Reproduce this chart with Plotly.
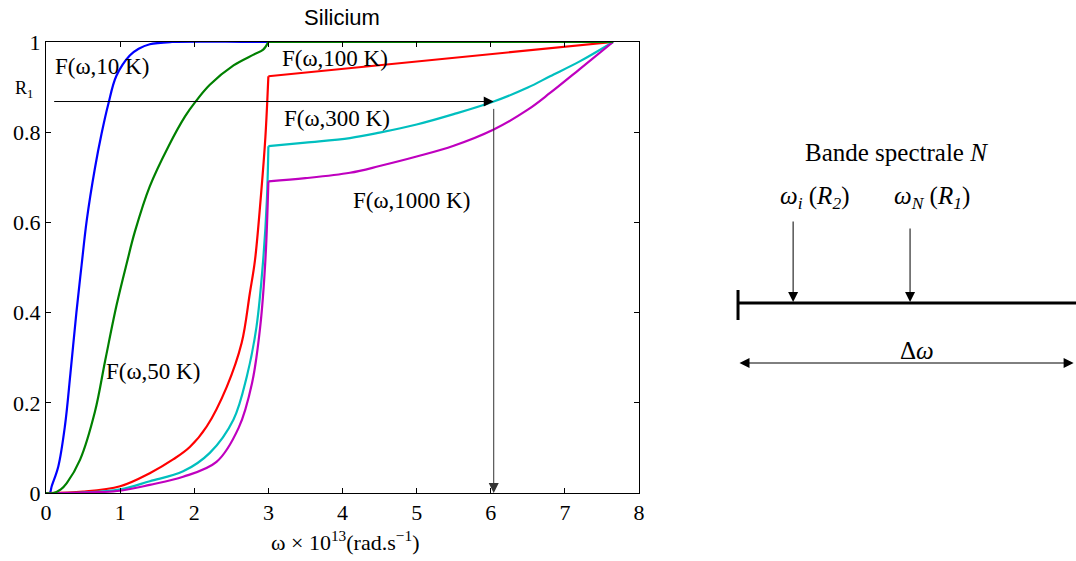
import plotly.graph_objects as go

# ---------------- data ----------------
w10 = [0, 0.05, 0.077, 0.166, 0.255, 0.33, 0.41, 0.48, 0.55, 0.66, 0.75, 0.84, 0.95, 1.13, 1.25, 1.40, 1.70, 3.0, 7.65]
F10 = [0, 0, 0.015, 0.059, 0.148, 0.266, 0.40, 0.505, 0.605, 0.72, 0.797, 0.862, 0.925, 0.97, 0.985, 0.995, 1.0, 1.0, 1.0]

w50 = [0, 0.1, 0.2, 0.28, 0.46, 0.66, 0.80, 0.95, 1.09, 1.20, 1.40, 1.65, 1.876, 2.01, 2.21, 2.53, 2.80, 2.93, 3.0, 7.65]
F50 = [0, 0, 0.008, 0.022, 0.074, 0.18, 0.295, 0.415, 0.51, 0.58, 0.68, 0.768, 0.835, 0.866, 0.905, 0.948, 0.972, 0.983, 1.0, 1.0]

w100 = [0, 0.5, 1.0, 1.40, 1.72, 1.94, 2.17, 2.44, 2.64, 2.75, 2.82, 2.90, 2.96, 3.0, 7.65]
F100 = [0, 0.003, 0.015, 0.044, 0.075, 0.102, 0.148, 0.236, 0.333, 0.443, 0.517, 0.66, 0.79, 0.924, 1.0]

w300 = [0, 0.5, 1.0, 1.40, 1.85, 2.21, 2.53, 2.71, 2.84, 2.93, 2.98, 3.0, 3.5, 4.1, 4.5, 5.0, 5.5, 6.04, 6.5, 6.8, 7.2, 7.65]
F300 = [0, 0.001, 0.008, 0.026, 0.048, 0.089, 0.163, 0.259, 0.369, 0.517, 0.65, 0.769, 0.777, 0.787, 0.799, 0.817, 0.840, 0.868, 0.899, 0.924, 0.957, 1.0]

w1000 = [0, 0.5, 1.0, 1.40, 1.85, 2.30, 2.60, 2.78, 2.89, 2.96, 3.0, 3.5, 4.1, 4.5, 5.0, 5.5, 6.04, 6.5, 6.8, 7.2, 7.65]
F1000 = [0, 0.001, 0.005, 0.018, 0.036, 0.069, 0.145, 0.244, 0.369, 0.517, 0.691, 0.698, 0.710, 0.725, 0.746, 0.770, 0.806, 0.850, 0.887, 0.940, 1.0]

series_names = ["F(ω,10 K)", "F(ω,50 K)", "F(ω,100 K)", "F(ω,300 K)", "F(ω,1000 K)"]
series_colors = ["#0000FF", "#008000", "#FF0000", "#00BFBF", "#BF00BF"]

# abscissa where the curves change regime (band edge)
omega_edge = 3.0

# label positions (data coordinates)
label_x = [0.76, 1.45, 3.90, 3.93, 4.93]
label_y = [0.946, 0.27, 0.963, 0.831, 0.648]

# R1 level and resulting omega_N
R1 = 0.868
omega_N = 6.04
x_ticks = [0, 1, 2, 3, 4, 5, 6, 7, 8]
y_ticks = [0, 0.2, 0.4, 0.6, 0.8, 1.0]
y_ticktext = ["0", "0.2", "0.4", "0.6", "0.8", "1"]

# schematic (right-hand sketch) positions, band normalised to [0, 1]
omega_i_pos = 0.163
omega_N_pos = 0.509

SERIF = "Liberation Serif, Times New Roman, serif"
SANS = "Liberation Sans, Arial, sans-serif"

fig = go.Figure()
series = {0: (w10, F10), 1: (w50, F50), 2: (w100, F100), 3: (w300, F300), 4: (w1000, F1000)}
draw_order = [0, 2, 3, 4, 1]
for i in draw_order:
    xs, ys = series[i]
    if i == 0:
        pieces = [(xs, ys)]
    else:
        k = xs.index(omega_edge)
        pieces = [(xs[:k + 1], ys[:k + 1]), (xs[k:], ys[k:])]
    for px, py in pieces:
        fig.add_trace(go.Scatter(x=px, y=py, mode="lines", name=series_names[i],
                                 line=dict(color=series_colors[i], width=2.2, shape="spline", smoothing=1.0),
                                 xaxis="x", yaxis="y", hoverinfo="skip"))

# curve labels
for i in range(5):
    fig.add_annotation(x=label_x[i], y=label_y[i], xref="x", yref="y", text=series_names[i],
                       xanchor="center", yanchor="middle",
                       showarrow=False, font=dict(family=SERIF, size=23, color="black"))

# arrows for R1 -> omega_N
fig.add_annotation(x=omega_N, y=R1, ax=0.09, ay=R1, xref="x", yref="y", axref="x", ayref="y",
                   text="", showarrow=True, arrowhead=2, arrowsize=2, arrowwidth=1,
                   arrowcolor="black", standoff=0)
fig.add_annotation(x=omega_N, y=0.0, ax=omega_N, ay=R1 - 0.013, xref="x", yref="y", axref="x", ayref="y",
                   text="", showarrow=True, arrowhead=2, arrowsize=2, arrowwidth=1,
                   arrowcolor="#333333", standoff=0)

# R1 label
fig.add_annotation(x=-0.021, y=0.894, xref="paper", yref="paper", text="R<sub>1</sub>",
                   xanchor="center", yanchor="middle",
                   showarrow=False, font=dict(family=SERIF, size=18, color="black"))

# x axis title
fig.add_annotation(x=0.29, y=-0.106, xref="paper", yref="paper",
                   text="ω × 10<sup>13</sup>(rad.s<sup>−1</sup>)",
                   xanchor="center", yanchor="middle",
                   showarrow=False, font=dict(family=SERIF, size=22, color="black"))

# ---------------- schematic on the right ----------------
line_style = dict(color="black", width=3)
fig.add_shape(type="line", x0=0, x1=1.0, y0=0, y1=0, xref="x2", yref="y2", line=line_style)
fig.add_shape(type="line", x0=0, x1=0, y0=-17, y1=13, xref="x2", yref="y2", line=line_style)

for pos, top in [(omega_i_pos, 83), (omega_N_pos, 76)]:
    fig.add_annotation(x=pos, y=0, ax=pos, ay=top, xref="x2", yref="y2", axref="x2", ayref="y2",
                       text="", showarrow=True, arrowhead=2, arrowsize=2, arrowwidth=1,
                       arrowcolor="black", standoff=1)

fig.add_annotation(x=0.993, y=-60, ax=0.0, ay=-60, xref="x2", yref="y2", axref="x2", ayref="y2",
                   text="", showarrow=True, arrowhead=2, arrowsize=2, arrowwidth=1,
                   arrowside="end+start", arrowcolor="black", standoff=0, startstandoff=0)

diag_font = dict(family=SERIF, size=25, color="black")
fig.add_annotation(x=0.470, y=151, xref="x2", yref="y2", text="Bande spectrale <i>N</i>",
                   xanchor="center", yanchor="middle", showarrow=False, font=diag_font)
fig.add_annotation(x=0.225, y=106, xref="x2", yref="y2",
                   text="<i>ω</i><sub><i>i</i></sub> (<i>R</i><sub><i>2</i></sub>)",
                   xanchor="center", yanchor="middle", showarrow=False, font=diag_font)
fig.add_annotation(x=0.575, y=106, xref="x2", yref="y2",
                   text="<i>ω</i><sub><i>N</i></sub> (<i>R</i><sub><i>1</i></sub>)",
                   xanchor="center", yanchor="middle", showarrow=False, font=diag_font)
fig.add_annotation(x=0.53, y=-47, xref="x2", yref="y2", text="Δ<i>ω</i>",
                   xanchor="center", yanchor="middle", showarrow=False, font=diag_font)

axis_common = dict(showline=True, linecolor="black", linewidth=1, mirror="ticks",
                   ticks="inside", ticklen=5, tickcolor="black", showgrid=False, zeroline=False,
                   automargin=False,
                   tickfont=dict(family=SERIF, size=22, color="black"))

fig.update_layout(
    width=1076, height=561,
    margin=dict(l=46, r=0, t=42, b=68, autoexpand=False),
    paper_bgcolor="white", plot_bgcolor="white",
    showlegend=False,
    title=dict(text="Silicium", x=(46 + 296) / 1076, xanchor="center", xref="container",
               y=1 - 17 / 561, yanchor="middle", font=dict(family=SANS, size=22, color="black")),
    xaxis=dict(domain=[0, 593 / 1030], range=[0, 8], tickvals=x_ticks, **axis_common),
    yaxis=dict(domain=[0, 1], range=[0, 1], tickvals=y_ticks, ticktext=y_ticktext, **axis_common),
    xaxis2=dict(domain=[0.6, 1.0], range=[-0.219, 1.0], visible=False, anchor="y2"),
    yaxis2=dict(domain=[0, 1], range=[-190, 261], visible=False, anchor="x2"),
)
fig.add_trace(go.Scatter(x=[None], y=[None], xaxis="x2", yaxis="y2", showlegend=False, hoverinfo="skip"))

fig.write_html("out.html", config={"displayModeBar": False},
               post_script="document.body.style.margin='0';document.body.style.overflow='hidden';")
